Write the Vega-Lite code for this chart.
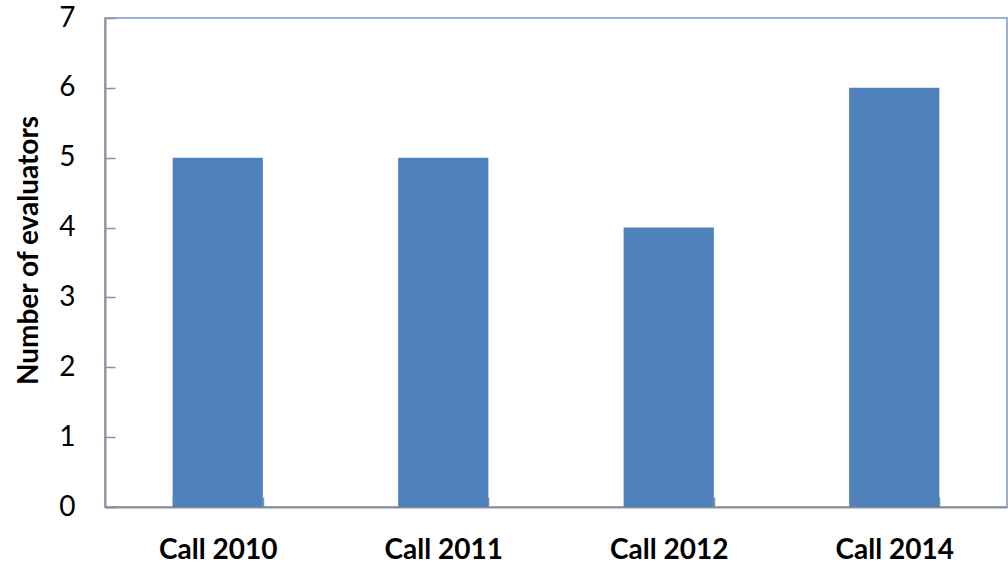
{
  "$schema": "https://vega.github.io/schema/vega-lite/v6.json",
  "width": 902,
  "height": 489,
  "autosize": "none",
  "padding": {"left": 105, "top": 18, "right": 1, "bottom": 56},
  "background": "white",
  "config": {
    "view": {"stroke": "#7F97BE", "strokeWidth": 1.5},
    "axis": {"grid": false, "labelFont": "Lato", "titleFont": "Lato", "labelColor": "black", "titleColor": "black", "domainColor": "#8A9199", "tickColor": "#8A9199", "domainWidth": 2, "tickWidth": 1.5}
  },
  "data": {"values": [
    {"call": "Call 2010", "evaluators": 5},
    {"call": "Call 2011", "evaluators": 5},
    {"call": "Call 2012", "evaluators": 4},
    {"call": "Call 2014", "evaluators": 6}
  ]},
  "mark": {"type": "bar", "color": "#4F81BD"},
  "encoding": {
    "x": {"field": "call", "type": "nominal", "sort": null, "title": null,
      "scale": {"paddingInner": 0.6, "paddingOuter": 0.3},
      "axis": {"labelAngle": 0, "labelFontSize": 28, "labelFontWeight": "bold", "labelPadding": 39, "tickBand": "extent", "tickSize": -10}},
    "y": {"field": "evaluators", "type": "quantitative", "title": "Number of evaluators",
      "scale": {"domain": [0, 7]},
      "axis": {"values": [0,1,2,3,4,5,6,7], "labelFontSize": 28, "labelPadding": 40, "tickSize": -10, "titleFontSize": 28, "titleFontWeight": "bold", "titlePadding": 15, "titleY": 232}}
  }
}
